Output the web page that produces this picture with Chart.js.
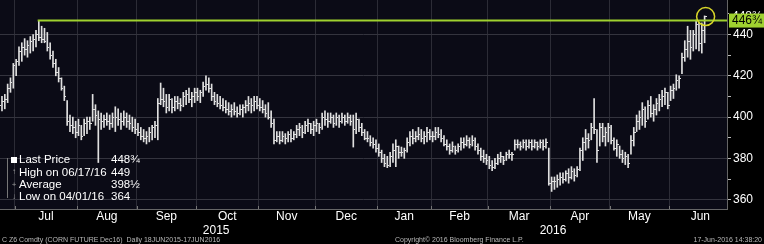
<!DOCTYPE html>
<html><head><meta charset="utf-8">
<script src="https://cdn.jsdelivr.net/npm/chart.js@4"></script>
<style>html,body{margin:0;padding:0;background:#000;}canvas{display:block}</style>
</head><body>
<canvas id="c" width="764" height="244"></canvas>
<script>
// ---- data: daily bars, index 0 = 18 Jun 2015 ... 252 = 17 Jun 2016 ----
const lows = [
398,397,399,401,403,404,407,412,414,420,
425,427,430,429,431,432,434,437,436,436,
432,428,424,420,417,413,408,396,393,392,
390,391,389,391,392,394,398,396,378,394,
395,396,394,395,393,396,394,396,395,394,
393,392,391,389,388,387,388,389,390,389,
406,405,402,403,402,403,404,403,405,406,
407,405,407,408,407,410,413,412,408,406,
405,404,403,402,401,400,401,400,401,400,
402,403,402,403,404,403,402,400,399,395,
387,388,387,388,387,388,388,389,390,391,
390,392,393,392,391,393,392,394,396,395,
397,395,396,395,397,396,397,396,385.5,392,
393,391,389,388,386,385,383,381,378,376,
375.5,376,378,376,380,381,380,383,386,387,
388,389,388,387,388,389,388,389,390,388,
386,384,382,383,382,383,384,385,386,385,
386,384,382,379,378,377,375,374,375,377,
378,377,379,380,379,384,385,384,385,384,
385,384,385,384,385,384,385,367,364,365,
366,367,368,369,368,370,369,371,374,379,
384,385,389,392,378,386,388,386,388,387,
384,381,380,378,377,375.5,382,386,393,394,
396,395,399,400,398,401,403,405,406,404,
408,409,413,414,421,427,429,428,432,433,
432,431,436];
const highs = [
404,403,406,408,410,411,416,419,426,428,
434,436,438,437,439,440,442,446.75,444,443,
441,436,432,428,424,419,415,408,401,400,
398,399,396,399,400,400,411,406,403,402,
401,402,401,402,405,404,402,403,402,401,
400,399,397,395,394,393,395,396,398,409,
416.5,414,411,411,409,410,410,409,412,413,
414,412,414,414,413,417,420,419,416,412,
411,410,409,408,407,406,407,405,406,406,
408,410,409,410,410,409,408,406,407,403,
399,393,393,393,392,393,394,393,396,397,
396,398,399,397,398,399,397,402,403,402,
402,401,402,401,402,401,402,401,401,402,
399,397,394,393,391,390,389,387,384,382,
381,383,387,389,386,385.5,385,390,393,394,
393,395,394,393,395,394,393,395,395,394,
391,389,387,388,386,387,390,390,391,390,
391,390,387,385,384,382,381,379,380,382,
383,381,383,384,383,389,389,388,389,389,
389,389,389,388,389,389,389.5,385,371,371,
372,373,373,374,375,376,375,376,385,390,
394,392,397,409,394,397,397,395,397,396,
390,389,386,384,383,382,391,395,401,403,
407,405,408,410,406,409,411,413,414,412,
415,416,420.5,420,431,437,444,442,442,447,
446,445.6,449];
const closes = [
401,400,404,406,408,409,414,417,425,427,
432,434,433,435,437,438,440,439,438,437,
434,430,426,422,419,414,410,398,396,395,
393,396,391,397,398,397,404,401,399,398,
399,398,397,400,400,399,398,400,398,397,
395,394,393,391,390,391,393,395,396,407,
409,408,405,409,405,408,407,406,410,411,
409,410,412,410,412,415,416,414,410,408,
407,406,405,404,403,404,403,402,404,405,
406,407,406,408,406,405,404,402,400,397,
389,391,389,391,390,392,390,392,394,395,
393,396,397,394,396,397,395,400,399,398,
400,397,400,398,400,398,400,398,394,399,
395,393,390,390,388,387,385,383,380,378,
377,381,384,386,383,383,384,388,391,390,
391,392,390,391,393,391,391,393,392,390,
387,386,384,386,384,386,388,387,389,387,
389,386,384,381,380,379,377,376,378,380,
381,379,382,382,382,387,387,386,388,386,
388,386,388,386,388,386,388,368,369,369,
370,371,370,373,371,374,372,375,384,388,
390,389,395,394,384,395,391,393,395,389,
385,387,382,380,381,378,389,393,398,400,
404,398,406,402,404,407,409,410,412,406,
413,414,418,419,429,433,437,434,440,445,
436,442,448.75];

const monthBounds  = [8.5,30.5,51.5,72.5,94.5,114.5,136.5,155.5,175.5,197.5,218.5,239.5];
const monthNames   = ['Jul','Aug','Sep','Oct','Nov','Dec','Jan','Feb','Mar','Apr','May','Jun'];
const monthCenters = [19.5,41,62,83.5,104.5,125.5,146,165.5,186.5,208,229,250.5];
const yearNames    = ['2015','2016'];
const yearCenters  = [79.6,198.5];
const yTickValues  = [360,370,380,390,400,410,420,430,440,450];

const highLineStart = 16.6, highLineValue = 446.75, highLineLabel = '446¾';
const lastLabel = '448¾';
const legendRows = [
  ['Last Price', '448¾'],
  ['High on 06/17/16', '449'],
  ['Average', '398½'],
  ['Low on 04/01/16', '364']
];
const X_MIN = 3.3, X_MAX = 259.9, Y_MIN = 355.5, Y_MAX = 456.7;
const FONT = '"Liberation Sans", Arial, sans-serif';

const barData = lows.map((l, i) => ({x: i, y: [l, highs[i]]}));

const noPadX = s => { s.paddingLeft = 0; s.paddingRight = 0; };

const decor = {
  id: 'decor',
  beforeDraw(chart) {
    const c = chart.ctx, a = chart.chartArea;
    c.save();
    c.fillStyle = '#000';
    c.fillRect(0, 0, chart.width, chart.height);
    c.fillStyle = '#0b0b16';
    c.fillRect(a.left, a.top, a.right - a.left, a.bottom - a.top);
    c.restore();
  },
  afterDatasetsDraw(chart) {
    const c = chart.ctx, a = chart.chartArea, xs = chart.scales.x, ys = chart.scales.y;
    c.save();
    c.beginPath(); c.rect(a.left, a.top, a.right - a.left, a.bottom - a.top); c.clip();
    c.fillStyle = '#e0e0e0';
    closes.forEach((v, i) => {
      const px = xs.getPixelForValue(i), py = ys.getPixelForValue(v);
      c.fillRect(Math.round(px), Math.round(py), 2, 1);
    });
    // small marks on the bottom axis at month boundaries
    c.fillStyle = '#777';
    monthBounds.forEach(v => {
      c.fillRect(Math.round(xs.getPixelForValue(v)), a.bottom - 3, 1, 3);
    });
    c.restore();

    // circle round last bar
    c.save();
    c.strokeStyle = '#d8d62a'; c.lineWidth = 1.5;
    c.beginPath();
    c.arc(xs.getPixelForValue(closes.length - 1) + 1, ys.getPixelForValue(448.7), 9, 0, Math.PI * 2);
    c.stroke();
    c.restore();

    // right-side value labels
    c.save();
    c.font = '12px ' + FONT; c.textBaseline = 'middle'; c.textAlign = 'left';
    let y1 = ys.getPixelForValue(448.75);
    c.fillStyle = '#000'; c.fillRect(a.right + 2, y1 - 7, 36, 13);
    c.fillStyle = '#fff'; c.fillText(lastLabel, a.right + 5, y1);
    let y2 = ys.getPixelForValue(highLineValue);
    c.fillStyle = '#9fd12f'; c.fillRect(a.right + 2, y2 - 7, 36, 14);
    c.fillStyle = '#000'; c.fillText(highLineLabel, a.right + 5, y2 + 0.5);
    c.restore();

    // legend box
    c.save();
    c.font = '11.5px ' + FONT; c.textBaseline = 'middle'; c.fillStyle = '#fff';
    const rowY = [160, 172.5, 185, 197];
    legendRows.forEach((r, k) => {
      c.fillText(r[0], 19, rowY[k]);
      c.fillText(r[1], 111, rowY[k]);
    });
    c.strokeStyle = '#777'; c.lineWidth = 1;
    c.beginPath(); c.moveTo(7.5, 158); c.lineTo(7.5, 198); c.stroke();
    c.fillStyle = '#fff'; c.fillRect(11, 157, 6, 6);
    c.fillStyle = '#999'; c.font = '8px ' + FONT; c.textAlign = 'center';
    c.fillText('↑', 14, 172); c.fillText('+', 14, 185); c.fillText('↓', 14, 197);
    c.restore();

    // footer
    c.save();
    c.font = '7px ' + FONT; c.fillStyle = '#b8b8b8'; c.textBaseline = 'alphabetic';
    c.textAlign = 'left';
    c.fillText('C Z6 Comdty (CORN FUTURE', 2, 242);
    c.fillText('Dec16)  Daily 18JUN2015-17JUN2016', 100, 242);
    c.fillText('Copyright© 2016 Bloomberg Finance L.P.', 395, 242);
    c.textAlign = 'right';
    c.fillText('17-Jun-2016 14:38:20', 762, 242);
    c.restore();
  }
};

new Chart(document.getElementById('c'), {
  type: 'bar',
  data: {
    datasets: [
      {
        type: 'line',
        data: [{x: highLineStart, y: highLineValue}, {x: X_MAX, y: highLineValue}],
        borderColor: '#9fd12f', borderWidth: 2, pointRadius: 0,
        xAxisID: 'x', yAxisID: 'y', order: 0
      },
      {
        data: barData, backgroundColor: '#e0e0e0', barThickness: 1,
        xAxisID: 'x', yAxisID: 'y', order: 1
      }
    ]
  },
  options: {
    responsive: false, animation: false, devicePixelRatio: 1,
    layout: {padding: {left: 0, right: 0, top: 0, bottom: 9}},
    plugins: {legend: {display: false}, tooltip: {enabled: false}},
    scales: {
      x: {
        type: 'linear', position: 'top', min: X_MIN, max: X_MAX, offset: false,
        afterBuildTicks: s => { s.ticks = monthBounds.map(v => ({value: v})); },
        ticks: {display: false},
        grid: {color: '#2c2c36', lineWidth: 1, drawTicks: false, offset: false},
        border: {display: false},
        afterFit: s => { s.height = 0; noPadX(s); }
      },
      xm: {
        type: 'linear', position: 'bottom', min: X_MIN, max: X_MAX, offset: false,
        afterBuildTicks: s => { s.ticks = monthCenters.map(v => ({value: v})); },
        ticks: {
          autoSkip: false, maxRotation: 0, padding: 0, color: '#fff',
          font: {family: FONT, size: 12},
          callback: (v, i) => monthNames[i]
        },
        grid: {display: false, drawTicks: false, offset: false},
        border: {display: true, color: '#666'},
        afterFit: s => { s.height = 14; noPadX(s); }
      },
      xy: {
        type: 'linear', position: 'bottom', min: X_MIN, max: X_MAX, offset: false,
        afterBuildTicks: s => { s.ticks = yearCenters.map(v => ({value: v})); },
        ticks: {
          autoSkip: false, maxRotation: 0, padding: 0, color: '#fff',
          font: {family: FONT, size: 12},
          callback: (v, i) => yearNames[i]
        },
        grid: {display: false, drawTicks: false, offset: false},
        border: {display: false},
        afterFit: s => { s.height = 12; noPadX(s); }
      },
      y: {
        type: 'linear', position: 'right', min: Y_MIN, max: Y_MAX,
        afterBuildTicks: s => { s.ticks = yTickValues.map(v => ({value: v})); },
        ticks: {
          color: '#fff', padding: 2, font: {family: FONT, size: 12},
          callback: v => (v % 20 === 0 ? String(v) : '')
        },
        grid: {
          color: ctx => (ctx.tick && ctx.tick.value % 20 === 0 ? '#34343e' : 'rgba(0,0,0,0)'),
          tickColor: '#bbb', tickLength: 4, drawTicks: true
        },
        border: {display: true, color: '#666'},
        afterFit: s => { s.width = 37; s.paddingTop = 0; s.paddingBottom = 0; }
      }
    }
  },
  plugins: [decor]
});
</script>
</body></html>
